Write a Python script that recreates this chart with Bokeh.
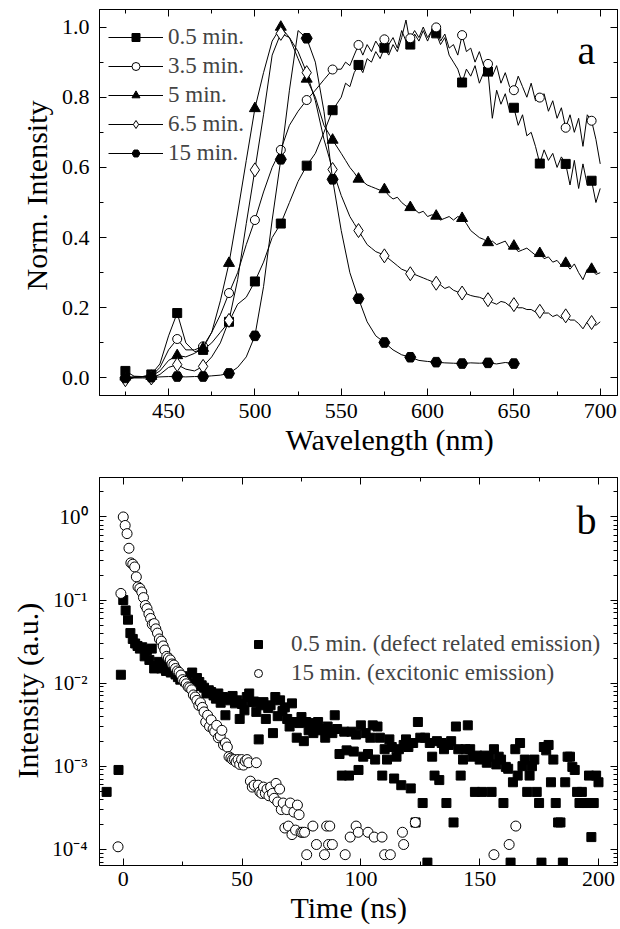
from bokeh.plotting import figure
from bokeh.models import (Range1d, LinearAxis, LogAxis, Legend, LegendItem, Label, Title,
                          CustomJSTickFormatter, FixedTicker, PrintfTickFormatter)
from bokeh.layouts import column
from bokeh.embed import file_html
from bokeh.resources import INLINE

FONT = '"Liberation Serif"'

# ---------------- panel a : PL spectra ----------------
# sampling grid: 5 nm up to 545 nm, 2.5 nm from 550 nm on
wavelength = list(range(425, 550, 5)) + [550 + 2.5 * k for k in range(61)]
int_05 = [0.02, 0.005, 0.004, 0.01, 0.04, 0.12, 0.185, 0.10, 0.075, 0.08,
          0.10, 0.13, 0.16, 0.21, 0.23, 0.275, 0.33, 0.40, 0.44, 0.50,
          0.56, 0.605, 0.64, 0.70, 0.763,
          0.80, 0.84, 0.83, 0.87, 0.892, 0.87, 0.91, 0.90, 0.93, 0.91,
          0.941, 0.92, 0.95, 0.93, 0.97, 1.02, 0.95, 0.98, 0.96, 0.99,
          0.96, 0.99, 0.982, 0.95, 0.97, 0.92, 0.90, 0.88, 0.842, 0.88,
          0.86, 0.89, 0.84, 0.87, 0.873, 0.74, 0.82, 0.78, 0.81, 0.76,
          0.77, 0.72, 0.75, 0.69, 0.70, 0.66, 0.611, 0.65, 0.62, 0.64,
          0.60, 0.63, 0.61, 0.55, 0.62, 0.54, 0.61, 0.55, 0.562, 0.50,
          0.54]
int_35 = [0.0, 0.003, 0.004, 0.005, 0.03, 0.08, 0.111, 0.08, 0.08, 0.09,
          0.13, 0.18, 0.242, 0.30, 0.38, 0.45, 0.53, 0.60, 0.65, 0.72,
          0.76, 0.792, 0.82, 0.85, 0.879,
          0.88, 0.90, 0.89, 0.92, 0.949, 0.92, 0.95, 0.93, 0.96, 0.94,
          0.965, 0.95, 0.97, 0.94, 0.99, 0.96, 0.968, 0.99, 0.97, 1.0,
          0.97, 0.99, 0.999, 0.96, 0.98, 0.94, 0.95, 0.92, 0.977, 0.93,
          0.94, 0.90, 0.93, 0.89, 0.895, 0.86, 0.89, 0.84, 0.87, 0.83,
          0.82, 0.86, 0.83, 0.80, 0.84, 0.79, 0.799, 0.81, 0.76, 0.79,
          0.74, 0.77, 0.713, 0.75, 0.70, 0.74, 0.66, 0.75, 0.733, 0.68,
          0.61]
int_5 = [0.003, 0.002, 0.003, 0.005, 0.02, 0.05, 0.064, 0.06, 0.07, 0.085,
         0.13, 0.22, 0.327, 0.47, 0.62, 0.768, 0.87, 0.96, 1.0, 0.97,
         0.91, 0.852, 0.80, 0.72, 0.678,
         0.64, 0.62, 0.60, 0.585, 0.567, 0.56, 0.55, 0.545, 0.54, 0.535,
         0.537, 0.52, 0.51, 0.515, 0.50, 0.49, 0.486, 0.48, 0.47, 0.475,
         0.46, 0.465, 0.4615, 0.45, 0.455, 0.46, 0.45, 0.46, 0.455, 0.44,
         0.42, 0.41, 0.40, 0.395, 0.386, 0.39, 0.38, 0.385, 0.39, 0.37,
         0.376, 0.36, 0.365, 0.37, 0.36, 0.35, 0.355, 0.34, 0.345, 0.33,
         0.335, 0.32, 0.327, 0.31, 0.325, 0.30, 0.28, 0.31, 0.31, 0.295,
         0.30]
int_65 = [-0.005, 0.0, 0.0, 0.0, 0.01, 0.03, 0.038, 0.025, 0.02, 0.033,
          0.06, 0.10, 0.164, 0.28, 0.44, 0.593, 0.75, 0.92, 0.982, 0.97,
          0.93, 0.87, 0.79, 0.68, 0.594,
          0.52, 0.49, 0.46, 0.44, 0.42, 0.40, 0.38, 0.37, 0.36, 0.355,
          0.348, 0.34, 0.33, 0.32, 0.31, 0.305, 0.297, 0.295, 0.29, 0.285,
          0.28, 0.275, 0.27, 0.265, 0.255, 0.26, 0.25, 0.245, 0.242, 0.24,
          0.235, 0.232, 0.23, 0.225, 0.223, 0.215, 0.21, 0.218, 0.215, 0.205,
          0.209, 0.20, 0.20, 0.195, 0.195, 0.188, 0.19, 0.185, 0.185, 0.175,
          0.18, 0.17, 0.177, 0.165, 0.165, 0.155, 0.14, 0.16, 0.158, 0.15,
          0.16]
wavelength_15 = list(range(425, 655, 5))
int_15 = [0.0, 0.002, 0.003, 0.002, 0.003, 0.004, 0.004, 0.003, 0.004, 0.004,
          0.006, 0.008, 0.013, 0.03, 0.06, 0.12, 0.26, 0.45, 0.623, 0.82,
          0.99, 0.968, 0.90, 0.76, 0.566, 0.42, 0.30, 0.226, 0.16, 0.12,
          0.101, 0.08, 0.066, 0.059, 0.05, 0.047, 0.045, 0.043, 0.042, 0.041,
          0.043, 0.042, 0.043, 0.04, 0.044, 0.041]
marker_wavelengths = list(range(425, 700, 15))
series_labels = ["0.5 min.", "3.5 min.", "5 min.", "6.5 min.", "15 min."]
x_ticks_a = [450, 500, 550, 600, 650, 700]
x_minor_a = [425, 475, 525, 575, 625, 675]
y_ticks_a = [0.0, 0.2, 0.4, 0.6, 0.8, 1.0]
y_minor_a = [0.1, 0.3, 0.5, 0.7, 0.9]

# ---------------- panel b : decay curves ----------------
t_defect = [-7, -2, -1] + list(range(0, 201))
i_defect = [0.00049, 0.0009, 0.0126,
    0.10, 0.075, 0.058, 0.040, 0.034, 0.030, 0.028, 0.026, 0.027, 0.021,
    0.025, 0.019, 0.026, 0.015, 0.016, 0.018, 0.015, 0.0166, 0.014, 0.0146,
    0.0134, 0.0143, 0.0127, 0.0118, 0.011, 0.0121, 0.0105, 0.0115, 0.0098, 0.0134,
    0.0092, 0.0115, 0.0103, 0.0094, 0.0088, 0.0075, 0.0082, 0.0078, 0.0071, 0.0065,
    0.0075, 0.0058, 0.0068, 0.0041, 0.0065, 0.0062, 0.0070, 0.0057, 0.0062, 0.0037,
    0.0056, 0.0047, 0.0068, 0.0075, 0.0059, 0.0060, 0.0045, 0.0021, 0.0054, 0.0059,
    0.0037, 0.0050, 0.0054, 0.0025, 0.0068, 0.0040, 0.0062, 0.0046, 0.0051, 0.0037,
    0.0030, 0.0057, 0.0034, 0.0022, 0.0033, 0.0039, 0.0020, 0.0034, 0.0027, 0.0033,
    0.0025, 0.0030, 0.0034, 0.0027, 0.0028, 0.0022, 0.0030, 0.0026, 0.0025, 0.0041,
    0.0028, 0.0014, 0.00077, 0.0026, 0.00155, 0.00077, 0.0026, 0.0015, 0.0024, 0.0009,
    0.0031, 0.0013, 0.0025, 0.0014, 0.0022, 0.0031, 0.0012, 0.0030, 0.0022, 0.00077,
    0.0016, 0.0012, 0.0021, 0.0017, 0.00071, 0.0013, 0.0016, 0.00059, 0.0018, 0.0021,
    0.0017, 0.00054, 0.0019, 0.00021, 0.0034, 0.0022, 0.00036, 0.0022, 0.000069, 0.0019,
    0.0013, 0.00077, 0.0020, 0.00068, 0.0019, 0.0016, 0.00036, 0.0018, 0.0020, 0.00021,
    0.0030, 0.0016, 0.00077, 0.0012, 0.0016, 0.0031, 0.0016, 0.0013, 0.00049, 0.00134,
    0.0012, 0.00049, 0.00134, 0.0011, 0.0013, 0.00049, 0.0016, 0.00105, 0.0013, 0.0012,
    0.00036, 0.00098, 0.00093, 0.000069, 0.00064, 0.0016, 0.00077, 0.0019, 0.0010, 0.0012,
    0.00049, 0.00077, 0.0010, 0.0012, 0.00049, 0.00036, 0.000069, 0.0017, 0.00155, 0.0018,
    0.00064, 0.0012, 0.00036, 0.00021, 0.00021, 0.000069, 0.00064, 0.0013, 0.0013, 0.00098,
    0.0009, 0.00049, 0.00036, 0.00049, 0.00036, 0.00036, 0.00077, 0.00014, 0.00036, 0.00077,
    0.00064]
t_exciton = [-2.2, -1.0, 0.0, 0.8, 1.6, 2.4, 3.2, 4.0, 4.8, 5.5,
             6.2, 7.0, 7.8, 8.5, 9.3, 10.0, 10.8, 11.5, 12.2, 13.0,
             13.7, 14.4, 15.2, 16.0, 16.8, 17.5, 18.3, 19.0, 19.8, 20.5,
             21.3, 22.0, 22.8, 23.5, 24.3, 25.0, 25.8, 26.5, 27.3, 28.0,
             28.8, 29.5, 30.3, 31.0, 31.8, 32.5, 33.3, 34.0, 34.7, 35.5,
             36.3, 37.0, 37.8, 38.5, 39.3, 40.0, 40.8, 41.5, 42.2, 43.0,
             43.8, 44.5, 45.3, 46.0, 46.8, 47.5, 48.3, 49.0, 49.8, 50.6,
             51.3, 52.1, 52.8, 53.5, 54.3, 55.1, 56.0, 56.8, 57.5, 58.3,
             59.0, 59.8, 60.5, 61.3, 62.0, 62.8, 63.5, 64.3, 65.0, 65.8,
             66.5, 67.3, 68.0, 68.8, 69.5, 70.3, 71.0, 71.8, 72.5, 73.3,
             74.0, 74.8, 75.5, 76.3, 77.2, 79.8, 81.3, 84.7, 85.6, 86.4,
             86.9, 88.0, 93.4, 95.5, 98.0, 98.9, 103.0, 105.6, 108.9, 110.0,
             112.4, 117.5, 118.0, 122.9, 156.0, 162.4, 165.2]
i_exciton = [0.000107, 0.12, 1.0, 0.79, 0.63, 0.42, 0.28, 0.27, 0.25, 0.19,
             0.144, 0.138, 0.125, 0.107, 0.086, 0.079, 0.068, 0.06, 0.051, 0.052,
             0.045, 0.04, 0.034, 0.032, 0.028, 0.025, 0.021, 0.02, 0.019, 0.017,
             0.0165, 0.015, 0.014, 0.0135, 0.0125, 0.011, 0.0105, 0.0098, 0.009, 0.0088,
             0.0083, 0.0072, 0.0068, 0.0062, 0.0054, 0.0058, 0.0051, 0.0045, 0.0034, 0.0041,
             0.0030, 0.0036, 0.0028, 0.0026, 0.0031, 0.0022, 0.0023, 0.0027, 0.0018, 0.0019,
             0.0017, 0.0013, 0.00125, 0.0012, 0.0012, 0.00112, 0.0012, 0.00105, 0.0012, 0.00103,
             0.00115, 0.0012, 0.0011, 0.00066, 0.00056, 0.00059, 0.0011, 0.00059, 0.00049, 0.00047,
             0.00056, 0.00047, 0.00053, 0.00044, 0.00056, 0.00047, 0.00041, 0.00062, 0.00037, 0.00053,
             0.0003, 0.00036, 0.00018, 0.0003, 0.00019, 0.00036, 0.00015, 0.00028, 0.00017, 0.00034,
             0.00026, 0.00016, 0.00016, 0.00016, 0.000086, 0.00019, 0.000114, 0.000086, 0.00019, 0.000114,
             0.00019, 0.000114, 0.000086, 0.00014, 0.00019, 0.00016, 0.00016, 0.00014, 0.00014, 0.000086,
             0.000086, 0.00016, 0.000114, 0.00021, 0.000086, 0.000114, 0.00019]
decay_labels = ["0.5 min. (defect related emission)", "15 min. (excitonic emission)"]
x_ticks_b = [0, 50, 100, 150, 200]
x_minor_b = [25, 75, 125, 175]
y_decades_b = [1e-4, 1e-3, 1e-2, 1e-1, 1e0]


def style_axis(ax, show_labels=True, size="22px", standoff=8):
    ax.axis_line_color = "black"
    ax.axis_line_width = 1
    ax.major_tick_in = 7
    ax.major_tick_out = 0
    ax.minor_tick_in = 4
    ax.minor_tick_out = 0
    ax.major_tick_line_color = "black"
    ax.minor_tick_line_color = "black"
    ax.major_label_text_font = FONT
    ax.major_label_text_font_size = size
    ax.major_label_text_color = "black"
    ax.major_label_standoff = standoff
    if not show_labels:
        ax.formatter = CustomJSTickFormatter(code="return '';")
        ax.major_label_standoff = 0
        ax.major_label_text_font_size = "1px"


def axis_title(text, offset, standoff):
    return Title(text=text, align="left", offset=offset, standoff=standoff,
                 text_font=FONT, text_font_size="30px", text_font_style="normal",
                 text_color="black")


# ================= panel a =================
p1 = figure(width=620, height=470, x_range=Range1d(410, 710), y_range=Range1d(-0.05, 1.05),
            output_backend="svg", toolbar_location=None,
            min_border_left=98, min_border_right=3, min_border_top=9, min_border_bottom=75)
p1.grid.visible = False
p1.outline_line_color = "black"
p1.background_fill_color = "white"
p1.border_fill_color = "white"

xt_a = FixedTicker(ticks=x_ticks_a, minor_ticks=x_minor_a)
yt_a = FixedTicker(ticks=y_ticks_a, minor_ticks=y_minor_a)
p1.xaxis.ticker = xt_a
p1.yaxis.ticker = yt_a
p1.yaxis.formatter = PrintfTickFormatter(format="%.1f")
style_axis(p1.xaxis[0])
style_axis(p1.yaxis[0], standoff=10)
top_a = LinearAxis(ticker=xt_a)
right_a = LinearAxis(ticker=yt_a)
style_axis(top_a, show_labels=False)
style_axis(right_a, show_labels=False)
p1.add_layout(top_a, "above")
p1.add_layout(right_a, "right")
p1.add_layout(axis_title("Wavelength (nm)", 186, 0), "below")
p1.add_layout(axis_title("Norm. Intensity", 105, 12), "left")

all_series = [(wavelength, int_05), (wavelength, int_35), (wavelength, int_5),
              (wavelength, int_65), (wavelength_15, int_15)]
markers = ["square", "circle", "triangle", "diamond", "hex"]
fills = ["black", "white", "black", "white", "black"]
sizes = [9, 9, 11, 14, 11]
items = []
for (wl, vals), lab, mk, fc, sz in zip(all_series, series_labels, markers, fills, sizes):
    lr = p1.line(wl, vals, line_color="black", line_width=1)
    mx = [w for w in marker_wavelengths if w in wl]
    my = [vals[wl.index(w)] for w in mx]
    sr = p1.scatter(mx, my, marker=mk, size=sz, fill_color=fc,
                    line_color="black", line_width=1)
    items.append(LegendItem(label=lab, renderers=[lr, sr]))

leg1 = Legend(items=items, location=(9, 229), padding=0, margin=0, spacing=3,
              glyph_width=55, glyph_height=20, label_height=20, label_standoff=5,
              label_text_font=FONT, label_text_font_size="23px",
              background_fill_alpha=0, border_line_color=None)
p1.add_layout(leg1, "center")
p1.add_layout(Label(x=692, y=0.934, text="a", text_font=FONT, text_font_size="40px",
                    text_align="center", text_baseline="alphabetic", text_color="black"))

# ================= panel b =================
p2 = figure(width=620, height=459, y_axis_type="log",
            x_range=Range1d(-10, 208), y_range=Range1d(6.37e-5, 2.985),
            output_backend="svg", toolbar_location=None,
            min_border_left=99, min_border_right=3, min_border_top=7, min_border_bottom=64)
p2.grid.visible = False
p2.outline_line_color = "black"

minor_log = [k * d for d in y_decades_b for k in range(2, 10)] + \
            [k * 1e-5 for k in range(7, 10)]
xt_b = FixedTicker(ticks=x_ticks_b, minor_ticks=x_minor_b)
yt_b = FixedTicker(ticks=y_decades_b, minor_ticks=minor_log)
sup_fmt = CustomJSTickFormatter(code="""
const sup = {'0':'\u2070','1':'\u00b9','2':'\u00b2','3':'\u00b3','4':'\u2074',
             '5':'\u2075','6':'\u2076','7':'\u2077','8':'\u2078','9':'\u2079','-':'\u207b'};
const e = Math.round(Math.log10(tick));
return '10' + String(e).split('').map(c => sup[c]).join('');
""")
p2.xaxis.ticker = xt_b
p2.yaxis.ticker = yt_b
p2.yaxis.formatter = sup_fmt
style_axis(p2.xaxis[0], standoff=6)
style_axis(p2.yaxis[0], size="21px", standoff=12)
top_b = LinearAxis(ticker=xt_b)
right_b = LogAxis(ticker=yt_b)
style_axis(top_b, show_labels=False)
style_axis(right_b, show_labels=False)
p2.add_layout(top_b, "above")
p2.add_layout(right_b, "right")
p2.add_layout(axis_title("Time (ns)", 191, 0), "below")
p2.add_layout(axis_title("Intensity (a.u.)", 87, 12), "left")

r_def = p2.scatter(t_defect, i_defect, marker="square", size=9, fill_color="black",
                   line_color="black")
r_exc = p2.scatter(t_exciton, i_exciton, marker="circle", size=10, fill_color="white",
                   line_color="black", line_width=1)
leg2 = Legend(items=[LegendItem(label=decay_labels[0], renderers=[r_def]),
                     LegendItem(label=decay_labels[1], renderers=[r_exc])],
              location=(149, 179), padding=0, margin=0, spacing=3,
              glyph_width=20, glyph_height=20, label_height=20, label_standoff=23,
              label_text_font=FONT, label_text_font_size="23px",
              background_fill_alpha=0, border_line_color=None)
p2.add_layout(leg2, "center")
p2.add_layout(Label(x=195, y=0.912, text="b", text_font=FONT, text_font_size="40px",
                    text_align="center", text_baseline="alphabetic", text_color="black"))

layout = column(p1, p2, spacing=0)
open("out.html", "w").write(file_html(layout, INLINE))
